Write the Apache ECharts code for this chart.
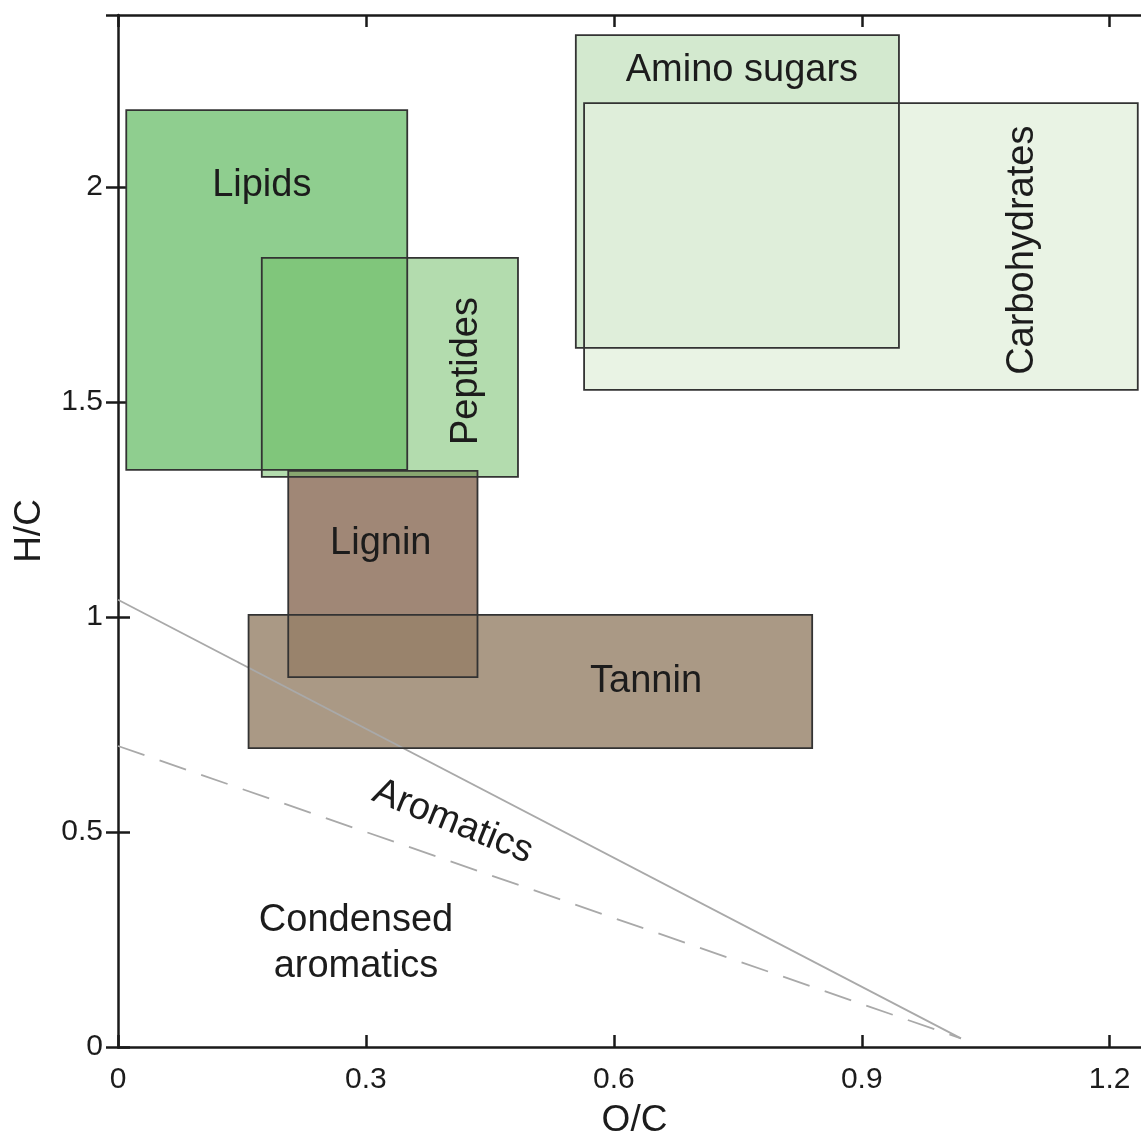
<!DOCTYPE html>
<html>
<head>
<meta charset="utf-8">
<script src="https://cdn.jsdelivr.net/npm/echarts@6/dist/echarts.min.js"></script>
<style>html,body{margin:0;padding:0;background:#fff;}#chart{width:1141px;height:1137px;}</style>
</head>
<body>
<div id="chart"></div>
<script>
// Compound classes (van Krevelen regions), drawn in this order
const classNames = ['Lignin', 'Tannin', 'Lipids', 'Peptides', 'Amino sugars', 'Carbohydrates'];
const ocMin = [0.206, 0.158, 0.010, 0.174, 0.554, 0.564];
const ocMax = [0.435, 0.840, 0.350, 0.484, 0.945, 1.234];
const hcMin = [0.860, 0.695, 1.342, 1.326, 1.626, 1.528];
const hcMax = [1.340, 1.005, 2.179, 1.835, 2.353, 2.195];
const classFills = ['#a08776', 'rgba(151,131,106,0.82)', '#8fce8f', 'rgba(117,191,108,0.55)', '#d3e9cf', 'rgba(227,240,221,0.78)'];

// Aromatic boundary lines
const aromaticLine = [[0, 1.04], [1.02, 0.02]];
const condensedLine = [[0, 0.70], [1.02, 0.02]];

// Text labels (name, O/C, H/C, rotation)
const labelNames = ['Lipids', 'Peptides', 'Amino sugars', 'Carbohydrates', 'Lignin', 'Tannin', 'Aromatics', 'Condensed\naromatics'];
const labelOC = [0.174, 0.422, 0.755, 1.095, 0.318, 0.639, 0.405, 0.288];
const labelHC = [2.003, 1.572, 2.270, 1.853, 1.170, 0.849, 0.524, 0.240];
const labelRot = [0, 90, 0, 90, 0, 0, -22, 0];

const xTicks = [0, 0.3, 0.6, 0.9, 1.2];
const yTicks = [0, 0.5, 1, 1.5, 2];

const FONT = '"Liberation Sans", Arial, Helvetica, sans-serif';
const TEXT = '#1c1c1c';
const rectData = classNames.map((n, i) => ({ name: n, value: [ocMin[i], ocMax[i], hcMin[i], hcMax[i]] }));

function rectShape(api) {
  const p0 = api.coord([api.value(0), api.value(3)]);
  const p1 = api.coord([api.value(1), api.value(2)]);
  return { x: p0[0], y: p0[1], width: p1[0] - p0[0], height: p1[1] - p0[1] };
}

const chart = echarts.init(document.getElementById('chart'));
const axisColor = '#1a1a1a';
chart.setOption({
  animation: false,
  backgroundColor: '#ffffff',
  textStyle: { fontFamily: FONT },
  grid: { left: 118, top: 15, right: -10, bottom: 90, containLabel: false, outerBoundsMode: 'none' },
  xAxis: [{
    type: 'value', min: 0, max: 1.25, interval: 0.3, position: 'bottom',
    name: 'O/C', nameLocation: 'middle', nameGap: 55,
    nameTextStyle: { fontSize: 37, color: TEXT, fontFamily: FONT },
    axisLine: { show: true, onZero: false, lineStyle: { color: axisColor, width: 2.5 } },
    axisTick: { show: true, inside: true, length: 12, lineStyle: { color: axisColor, width: 2.5 } },
    axisLabel: { fontSize: 30, color: TEXT, margin: 18, showMaxLabel: false, fontFamily: FONT,
      formatter: v => (xTicks.indexOf(+v.toFixed(2)) >= 0 ? String(+v.toFixed(2)) : '') },
    splitLine: { show: false }
  }, {
    type: 'value', min: 0, max: 1.25, interval: 0.3, position: 'top',
    axisLine: { show: true, onZero: false, lineStyle: { color: axisColor, width: 2.5 } },
    axisTick: { show: true, inside: true, length: 12, lineStyle: { color: axisColor, width: 2.5 } },
    axisLabel: { show: false }, splitLine: { show: false }
  }],
  yAxis: [{
    type: 'value', min: 0, max: 2.4, interval: 0.5, position: 'left',
    name: 'H/C', nameLocation: 'middle', nameGap: 70, nameRotate: 90,
    nameTextStyle: { fontSize: 37, color: TEXT, fontFamily: FONT },
    axisLine: { show: true, onZero: false, lineStyle: { color: axisColor, width: 2.5 } },
    axisTick: { show: true, inside: true, length: 12, lineStyle: { color: axisColor, width: 2.5 } },
    axisLabel: { fontSize: 30, color: TEXT, margin: 15, showMaxLabel: false, fontFamily: FONT,
      formatter: v => (yTicks.indexOf(+v.toFixed(2)) >= 0 ? String(+v.toFixed(2)) : '') },
    splitLine: { show: false }
  }, {
    type: 'value', min: 0, max: 2.4, interval: 0.5, position: 'right',
    axisLine: { show: false },
    axisTick: { show: true, inside: true, length: 12, lineStyle: { color: axisColor, width: 2.5 } },
    axisLabel: { show: false }, splitLine: { show: false }
  }],
  series: [
    {
      type: 'custom', name: 'fills', data: rectData, z: 2, silent: true,
      renderItem: (params, api) => ({
        type: 'rect', shape: rectShape(api),
        style: { fill: classFills[params.dataIndex], stroke: null }
      })
    },
    {
      type: 'line', name: 'aromatic', data: aromaticLine, z: 3, symbol: 'none', silent: true,
      lineStyle: { color: '#a9a9a9', width: 1.8 }
    },
    {
      type: 'line', name: 'condensed', data: condensedLine, z: 3, symbol: 'none', silent: true,
      lineStyle: { color: '#a9a9a9', width: 1.8, type: [28, 16] }
    },
    {
      type: 'custom', name: 'outlines', data: rectData, z: 4, silent: true,
      renderItem: (params, api) => ({
        type: 'rect', shape: rectShape(api),
        style: { fill: 'none', stroke: '#333333', lineWidth: 1.8 }
      })
    },
    {
      type: 'scatter', name: 'labels', z: 5, symbolSize: 0, silent: true,
      itemStyle: { opacity: 1, color: 'rgba(0,0,0,0)' },
      data: labelNames.map((n, i) => ({
        name: n, value: [labelOC[i], labelHC[i]],
        label: { rotate: labelRot[i] }
      })),
      label: {
        show: true, position: 'inside', formatter: p => p.name, opacity: 1,
        fontSize: 38, color: TEXT, fontFamily: FONT, lineHeight: 46, align: 'center', verticalAlign: 'middle'
      }
    }
  ]
});
</script>
</body>
</html>
